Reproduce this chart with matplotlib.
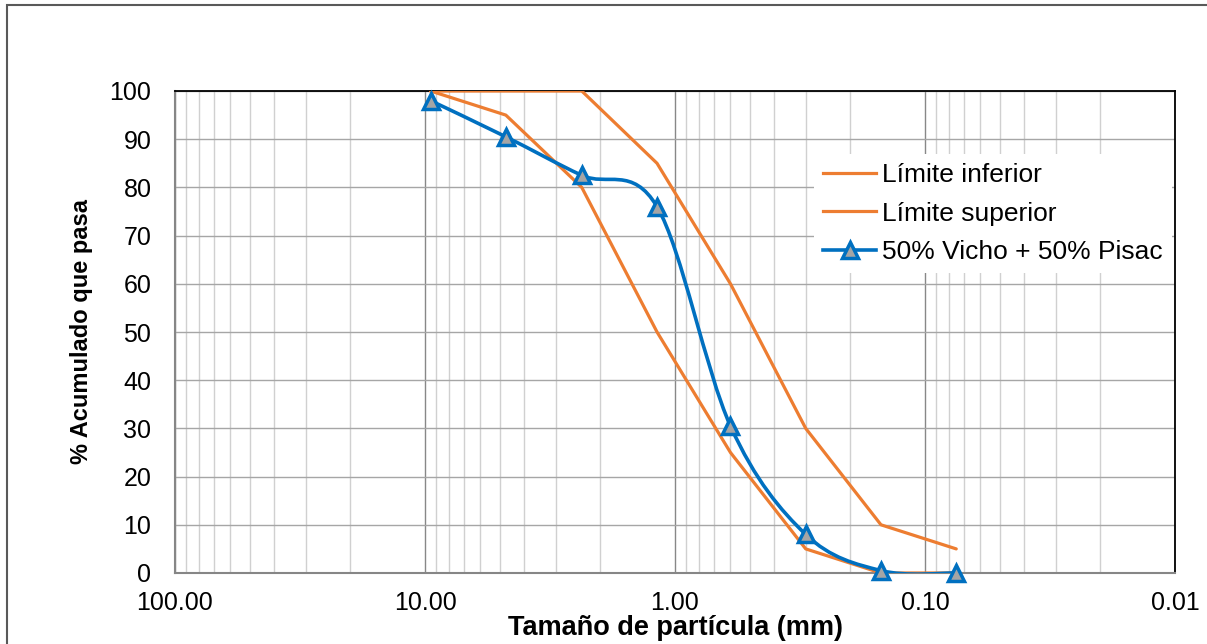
import matplotlib.pyplot as plt
from matplotlib.path import Path
from matplotlib.patches import PathPatch, Rectangle
from matplotlib.lines import Line2D
from matplotlib.ticker import FixedLocator, FixedFormatter, LogLocator, NullFormatter
import numpy as np

# sieve openings (mm)
sizes = [9.5, 4.75, 2.36, 1.18, 0.6, 0.3, 0.15, 0.075]

# gradation limits and mix (% passing)
lowerLimit = [100, 95, 80, 50, 25, 5, 0, 0]
upperLimit = [100, 100, 100, 85, 60, 30, 10, 5]
mix = [98, 90.5, 82.5, 76, 30.5, 8, 0.5, 0]

xTicks = [100, 10, 1, 0.1, 0.01]
xTickLabels = ['100.00', '10.00', '1.00', '0.10', '0.01']
yTicks = list(range(0, 101, 10))

orange = '#ED7D31'
blue = '#0070C0'

plt.rcParams['font.family'] = ['Liberation Sans', 'DejaVu Sans']

fig = plt.figure(figsize=(12.07, 6.44), dpi=100)
ax = fig.add_axes([175 / 1207, 1 - 573 / 644, 1000 / 1207, 482 / 644])

# outer chart border (only left/top visible in the crop)
fig.patches.append(Rectangle((7 / 1207, -0.1), 1.2, 1 - 5 / 644 + 0.1,
                             transform=fig.transFigure, fill=False,
                             edgecolor='#595959', linewidth=1.5))

ax.plot(sizes, lowerLimit, color=orange, lw=2.3, solid_capstyle='round', zorder=3)
ax.plot(sizes, upperLimit, color=orange, lw=2.3, solid_capstyle='round', zorder=3)


# smoothed line like excel (catmull-rom bezier in log-x space)
def smooth_path(xs, ys):
    u = np.log10(xs)
    v = np.array(ys, dtype=float)
    n = len(u)
    verts = [(u[0], v[0])]
    codes = [Path.MOVETO]
    for i in range(n - 1):
        p0 = (u[max(i - 1, 0)], v[max(i - 1, 0)])
        p1 = (u[i], v[i])
        p2 = (u[i + 1], v[i + 1])
        p3 = (u[min(i + 2, n - 1)], v[min(i + 2, n - 1)])
        c1 = (p1[0] + (p2[0] - p0[0]) / 6, p1[1] + (p2[1] - p0[1]) / 6)
        c2 = (p2[0] - (p3[0] - p1[0]) / 6, p2[1] - (p3[1] - p1[1]) / 6)
        verts += [c1, c2, p2]
        codes += [Path.CURVE4] * 3
    verts = [(10 ** a, b) for a, b in verts]
    return Path(verts, codes)


ax.add_patch(PathPatch(smooth_path(sizes, mix), fill=False, edgecolor=blue,
                       lw=2.6, zorder=4))
ax.plot(sizes, mix, linestyle='none', marker='^', markersize=11,
        markerfacecolor='#A5A5A5', markeredgecolor=blue, markeredgewidth=2.5,
        zorder=5, clip_on=False)

ax.set_xscale('log')
ax.set_xlim(100, 0.01)
ax.set_ylim(0, 100)

ax.xaxis.set_major_locator(FixedLocator(xTicks))
ax.xaxis.set_major_formatter(FixedFormatter(xTickLabels))
ax.xaxis.set_minor_locator(LogLocator(base=10, subs=np.arange(2, 10)))
ax.xaxis.set_minor_formatter(NullFormatter())
ax.set_yticks(yTicks)

ax.grid(which='major', axis='x', color='#888888', lw=1)
ax.grid(which='minor', axis='x', color='#D0D0D0', lw=1)
ax.grid(which='major', axis='y', color='#A6A6A6', lw=1)
ax.set_axisbelow(True)

ax.tick_params(which='both', length=0, labelsize=18, colors='black')
ax.tick_params(axis='x', pad=13)
ax.tick_params(axis='y', pad=17)

for side in ['top', 'right']:
    ax.spines[side].set_color('black')
    ax.spines[side].set_linewidth(1.3)
for side in ['left', 'bottom']:
    ax.spines[side].set_color('#868686')
    ax.spines[side].set_linewidth(1.5)

ax.set_xlabel('Tamaño de partícula (mm)', fontsize=19.5, fontweight='bold', labelpad=0)
ax.set_ylabel('% Acumulado que pasa', fontsize=17, fontweight='bold', labelpad=12)

handles = [Line2D([], [], color=orange, lw=2.3),
           Line2D([], [], color=orange, lw=2.3),
           Line2D([], [], color=blue, lw=2.6, marker='^', markersize=11,
                  markerfacecolor='#A5A5A5', markeredgecolor=blue, markeredgewidth=2.5)]
leg = ax.legend(handles, ['Límite inferior', 'Límite superior', '50% Vicho + 50% Pisac'],
                loc='upper right', bbox_to_anchor=(1.0, 0.875), fontsize=19,
                frameon=True, fancybox=False, framealpha=1, edgecolor='white',
                handlelength=2.0, handletextpad=0.25, borderpad=0.35,
                labelspacing=0.55, borderaxespad=0.1)
leg.get_frame().set_linewidth(0)

fig.savefig('out.png', dpi=100)
